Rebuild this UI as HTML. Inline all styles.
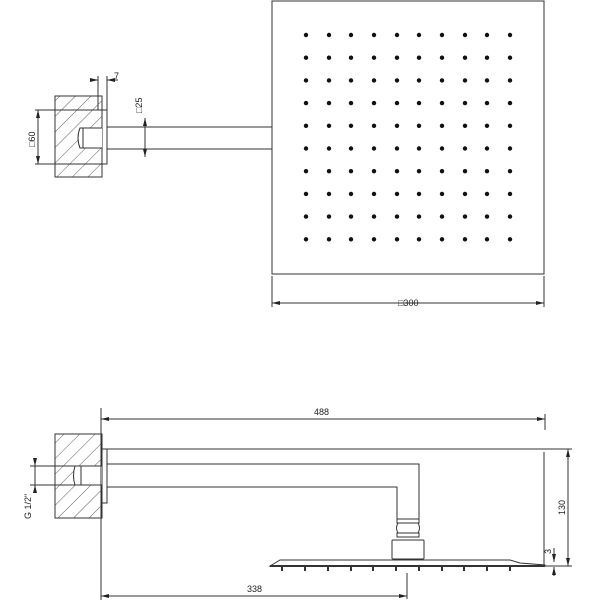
<!DOCTYPE html>
<html><head><style>body{margin:0;background:#fff}svg{display:block}text{font-family:"Liberation Sans",sans-serif;font-size:9px;fill:#222}</style></head><body>
<svg width="600" height="600" viewBox="0 0 600 600" xmlns="http://www.w3.org/2000/svg">
<defs>
<pattern id="h" width="11" height="11" patternUnits="userSpaceOnUse" patternTransform="rotate(45)"><line x1="0" y1="0" x2="0" y2="11" stroke="#333" stroke-width="0.8"/></pattern>
<marker id="a" markerWidth="8" markerHeight="6" refX="8" refY="3" orient="auto-start-reverse" markerUnits="userSpaceOnUse"><path d="M0,1 L8,3 L0,5z" fill="#222"/></marker>
<g id="row"><circle cx="306" cy="35" r="2.2"/><circle cx="329" cy="35" r="2.2"/><circle cx="351" cy="35" r="2.2"/><circle cx="374" cy="35" r="2.2"/><circle cx="397" cy="35" r="2.2"/><circle cx="419" cy="35" r="2.2"/><circle cx="442" cy="35" r="2.2"/><circle cx="465" cy="35" r="2.2"/><circle cx="487" cy="35" r="2.2"/><circle cx="510" cy="35" r="2.2"/></g>
</defs>
<g stroke="#333" stroke-width="1" fill="none">
<rect x="272" y="1" width="272" height="273"/>
<line x1="272" y1="276" x2="272" y2="307"/><line x1="544" y1="276" x2="544" y2="307"/>
<line x1="272" y1="303" x2="544" y2="303" marker-start="url(#a)" marker-end="url(#a)"/>
<rect x="55" y="96" width="47" height="81" fill="url(#h)"/>
<rect x="102" y="110" width="5" height="54" fill="#fff"/>
<path d="M102,128 H80 Q76,138 80,148 H102" fill="#fff"/>
<line x1="83" y1="128" x2="83" y2="148"/>
<line x1="107" y1="127" x2="272" y2="127"/><line x1="107" y1="149" x2="272" y2="149"/>
<line x1="98" y1="76" x2="98" y2="110"/><line x1="107" y1="76" x2="107" y2="110"/>
<line x1="90" y1="80" x2="98" y2="80" marker-end="url(#a)"/><line x1="118" y1="80" x2="107" y2="80" marker-end="url(#a)"/>
<line x1="35" y1="110" x2="102" y2="110"/><line x1="35" y1="164" x2="102" y2="164"/>
<line x1="38" y1="110" x2="38" y2="164" marker-start="url(#a)" marker-end="url(#a)"/>
<line x1="145" y1="118" x2="145" y2="157" marker-start="url(#a)" marker-end="url(#a)"/>
<rect x="55" y="434" width="47" height="84" fill="url(#h)"/>
<rect x="102" y="449" width="5" height="54" fill="#fff"/>
<path d="M102,466 H75 Q72,476 75,485 H102" fill="#fff"/>
<line x1="81" y1="466" x2="81" y2="485"/>
<path d="M107,464 H419 V519 M107,487 H397 V519"/>
<rect x="397" y="519" width="22" height="4"/>
<path d="M398,523 Q395,528 398,533 H418 Q421,528 418,523"/>
<rect x="397" y="533" width="22" height="4"/>
<rect x="392" y="540" width="32" height="19" rx="1"/>
<path d="M270,566 L280,560 H510 L520,563 L545,565 V566 Z" fill="#fff"/>
<line x1="270" y1="566" x2="545" y2="566" stroke-width="2"/>
<line x1="101" y1="408" x2="101" y2="600"/>
<line x1="101" y1="419" x2="545" y2="419" marker-start="url(#a)" marker-end="url(#a)"/>
<line x1="545" y1="414" x2="545" y2="430"/>
<line x1="101" y1="596" x2="407" y2="596" marker-start="url(#a)" marker-end="url(#a)"/>
<line x1="407" y1="573" x2="407" y2="599"/>
<line x1="107" y1="449" x2="572" y2="449"/>
<line x1="544" y1="452" x2="544" y2="566"/>
<line x1="545" y1="566" x2="572" y2="566"/>
<line x1="568" y1="449" x2="568" y2="566" marker-start="url(#a)" marker-end="url(#a)"/>
<line x1="554" y1="548" x2="554" y2="562" marker-end="url(#a)"/><line x1="554" y1="576" x2="554" y2="567" marker-end="url(#a)"/>
<line x1="30" y1="466" x2="80" y2="466"/><line x1="30" y1="485" x2="80" y2="485"/>
<line x1="35" y1="458" x2="35" y2="466" marker-end="url(#a)"/><line x1="35" y1="493" x2="35" y2="485" marker-end="url(#a)"/>
<line x1="35" y1="466" x2="35" y2="485"/>
</g>
<g fill="#111">
<use href="#row"/>
<use href="#row" y="22.7"/><use href="#row" y="45.4"/><use href="#row" y="68.1"/><use href="#row" y="90.8"/>
<use href="#row" y="113.5"/><use href="#row" y="136.2"/><use href="#row" y="158.9"/><use href="#row" y="181.6"/><use href="#row" y="204.3"/>
</g>
<g fill="#333">
<rect x="281" y="567" width="2" height="4"/><rect x="304" y="567" width="2" height="4"/><rect x="327" y="567" width="2" height="4"/><rect x="350" y="567" width="2" height="4"/><rect x="372" y="567" width="2" height="4"/><rect x="395" y="567" width="2" height="4"/><rect x="418" y="567" width="2" height="4"/><rect x="441" y="567" width="2" height="4"/><rect x="463" y="567" width="2" height="4"/><rect x="486" y="567" width="2" height="4"/><rect x="509" y="567" width="2" height="4"/>
</g>
<text x="114" y="79">7</text>
<text x="398" y="306">□300</text>
<text x="314" y="415">488</text>
<text x="247" y="592">338</text>
<text transform="translate(35,147) rotate(-90)">□60</text>
<text transform="translate(142,113) rotate(-90)">□25</text>
<text transform="translate(565,515) rotate(-90)">130</text>
<text transform="translate(551,554) rotate(-90)">3</text>
<text transform="translate(31,519) rotate(-90)">G 1/2"</text>
</svg>
</body></html>
